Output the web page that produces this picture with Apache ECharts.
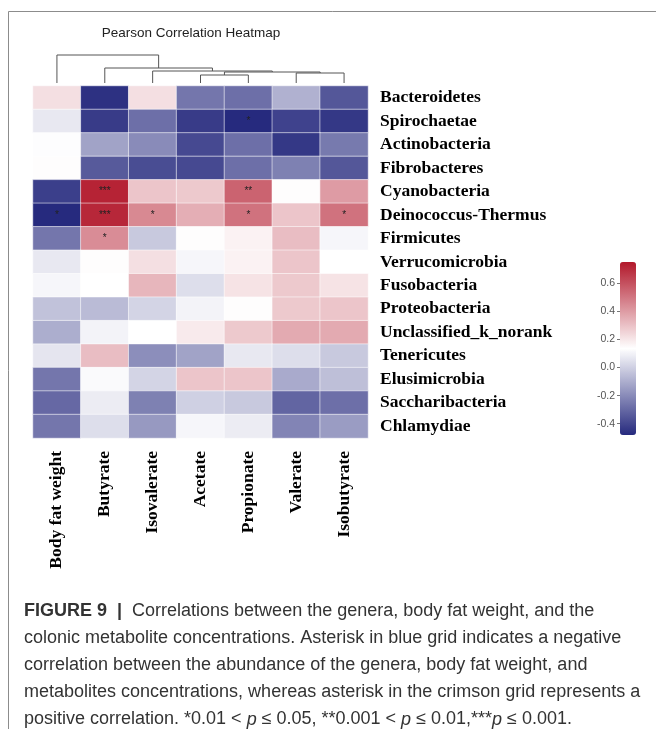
<!DOCTYPE html>
<html>
<head>
<meta charset="utf-8">
<script src="https://cdn.jsdelivr.net/npm/echarts@6/dist/echarts.min.js"></script>
<style>
html,body{margin:0;padding:0;background:#fff;}
#chart{width:656px;height:729px;}
</style>
</head>
<body>
<div id="chart"></div>
<script>
// ---- data ----
const columns = ['Body fat weight', 'Butyrate', 'Isovalerate', 'Acetate', 'Propionate', 'Valerate', 'Isobutyrate'];
const genera = ['Bacteroidetes', 'Spirochaetae', 'Actinobacteria', 'Fibrobacteres', 'Cyanobacteria',
  'Deinococcus-Thermus', 'Firmicutes', 'Verrucomicrobia', 'Fusobacteria', 'Proteobacteria',
  'Unclassified_k_norank', 'Tenericutes', 'Elusimicrobia', 'Saccharibacteria', 'Chlamydiae'];
// rows = genera, columns = columns
const correlations = [
  [0.22, -0.46, 0.22, -0.26, -0.28, -0.09, -0.35],
  [0.07, -0.43, -0.28, -0.43, -0.48, -0.41, -0.44],
  [0.13, -0.13, -0.20, -0.39, -0.28, -0.44, -0.25],
  [0.14, -0.34, -0.38, -0.39, -0.28, -0.23, -0.35],
  [-0.42, 0.72, 0.29, 0.28, 0.55, 0.14, 0.40],
  [-0.48, 0.71, 0.45, 0.35, 0.51, 0.29, 0.51],
  [-0.26, 0.44, -0.02, 0.14, 0.17, 0.31, 0.11],
  [0.07, 0.14, 0.22, 0.11, 0.17, 0.29, 0.135],
  [0.11, 0.135, 0.33, 0.04, 0.21, 0.28, 0.21],
  [-0.04, -0.06, 0.01, 0.10, 0.14, 0.28, 0.29],
  [-0.10, 0.10, 0.135, 0.19, 0.28, 0.36, 0.36],
  [0.06, 0.31, -0.19, -0.13, 0.07, 0.04, -0.02],
  [-0.26, 0.12, 0.01, 0.29, 0.29, -0.11, -0.05],
  [-0.30, 0.08, -0.23, 0.00, -0.02, -0.31, -0.28],
  [-0.26, 0.04, -0.16, 0.11, 0.08, -0.22, -0.15]
];
const significance = [
  ['', '', '', '', '', '', ''],
  ['', '', '', '', '*', '', ''],
  ['', '', '', '', '', '', ''],
  ['', '', '', '', '', '', ''],
  ['', '***', '', '', '**', '', ''],
  ['*', '***', '*', '', '*', '', '*'],
  ['', '*', '', '', '', '', ''],
  ['', '', '', '', '', '', ''],
  ['', '', '', '', '', '', ''],
  ['', '', '', '', '', '', ''],
  ['', '', '', '', '', '', ''],
  ['', '', '', '', '', '', ''],
  ['', '', '', '', '', '', ''],
  ['', '', '', '', '', '', ''],
  ['', '', '', '', '', '', '']
];
// column dendrogram merges: [childA, childB, height]; ids 0..6 are columns, 7+ are merges in order
const dendroMerges = [
  [3, 4, 0.8],
  [5, 6, 1.0],
  [7, 8, 1.1],
  [2, 9, 1.2],
  [1, 10, 1.5],
  [0, 11, 2.8]
];
const colorbarTicks = [-0.4, -0.2, 0.0, 0.2, 0.4, 0.6];
const colorMin = -0.48, colorMax = 0.75;
const titleText = 'Pearson Correlation Heatmap';

// ---- build ----
const heatData = [];
correlations.forEach((row, r) => row.forEach((v, c) => heatData.push([c, r, v])));

const nodeX = columns.map((_, i) => i + 0.5);
const nodeH = columns.map(() => 0);
const dendroData = [];
dendroMerges.forEach(([a, b, h]) => {
  dendroData.push([nodeX[a], nodeH[a], nodeX[b], nodeH[b], h]);
  nodeX.push((nodeX[a] + nodeX[b]) / 2);
  nodeH.push(h);
});

const serifBold = {fontFamily: 'Liberation Serif', fontWeight: 'bold', fontSize: 17.5, color: '#000'};
const cap = {fontFamily: 'Liberation Sans', fontSize: 18, fill: '#333', lineHeight: 27};

const chart = echarts.init(document.getElementById('chart'), null, {renderer: 'canvas'});
chart.setOption({
  animation: false,
  backgroundColor: '#fff',
  graphic: [
    {type: 'rect', shape: {x: 8.5, y: 11.5, width: 700, height: 800},
      style: {fill: 'none', stroke: '#8c8c8c', lineWidth: 1}, silent: true},
    {type: 'text', x: 191, y: 33,
      style: {text: titleText, align: 'center', verticalAlign: 'middle',
        font: '13.5px "Liberation Sans"', fill: '#222'}},
    {type: 'text', x: 24, y: 598,
      style: Object.assign({
        text: '{b|FIGURE 9} {sep| | } Correlations between the genera, body fat weight, and the\n' +
              'colonic metabolite concentrations. Asterisk in blue grid indicates a negative\n' +
              'correlation between the abundance of the genera, body fat weight, and\n' +
              'metabolites concentrations, whereas asterisk in the crimson grid represents a\n' +
              'positive correlation. *0.01 < {i|p} ≤ 0.05, **0.001 < {i|p} ≤ 0.01,***{i|p} ≤ 0.001.',
        rich: {
          b: Object.assign({fontWeight: 'bold'}, cap),
          sep: Object.assign({fontWeight: 'bold'}, cap),
          i: Object.assign({fontStyle: 'italic'}, cap)
        }
      }, cap)}
  ],
  grid: [
    {left: 33, top: 86, width: 335, height: 352},
    {left: 33, top: 53, width: 335, height: 30},
    {left: 620, top: 262, width: 16, height: 173}
  ],
  xAxis: [
    {type: 'category', gridIndex: 0, data: columns, position: 'bottom',
      axisLine: {show: false}, axisTick: {show: false}, splitLine: {show: false},
      axisLabel: Object.assign({rotate: 90, margin: 13, interval: 0}, serifBold)},
    {type: 'value', gridIndex: 1, min: 0, max: columns.length, show: false},
    {type: 'value', gridIndex: 2, min: 0, max: 1, show: false}
  ],
  yAxis: [
    {type: 'category', gridIndex: 0, data: genera, inverse: true, position: 'right',
      axisLine: {show: false}, axisTick: {show: false}, splitLine: {show: false},
      axisLabel: Object.assign({margin: 12, interval: 0, align: 'left'}, serifBold)},
    {type: 'value', gridIndex: 1, min: 0, max: 3, show: false},
    {type: 'value', gridIndex: 2, min: colorMin, max: colorMax, position: 'left',
      axisLine: {show: false}, splitLine: {show: false},
      axisTick: {show: true, length: 3, lineStyle: {color: '#777'}, customValues: colorbarTicks},
      axisLabel: {show: true, margin: 5, fontSize: 10.5, color: '#555', fontFamily: 'Liberation Sans',
        customValues: colorbarTicks, formatter: v => v.toFixed(1)}}
  ],
  visualMap: {
    type: 'continuous', seriesIndex: 0, min: colorMin, max: colorMax,
    left: 620, top: 262, itemWidth: 16, itemHeight: 173, padding: 0,
    calculable: false, hoverLink: false, showLabel: false,
    inRange: {color: ['#262a7e', '#ffffff', '#b2182b']}
  },
  series: [
    {type: 'heatmap', xAxisIndex: 0, yAxisIndex: 0, data: heatData,
      itemStyle: {borderColor: 'rgba(255,255,255,0.55)', borderWidth: 1},
      label: {show: true, fontSize: 10, color: '#222',
        formatter: p => significance[p.data[1]][p.data[0]]},
      emphasis: {disabled: true}},
    {type: 'custom', xAxisIndex: 1, yAxisIndex: 1, data: dendroData, silent: true,
      encode: {x: [0, 2], y: [1, 3, 4]},
      renderItem: (params, api) => {
        const p1 = api.coord([api.value(0), api.value(1)]);
        const p2 = api.coord([api.value(0), api.value(4)]);
        const p3 = api.coord([api.value(2), api.value(4)]);
        const p4 = api.coord([api.value(2), api.value(3)]);
        return {type: 'polyline', shape: {points: [p1, p2, p3, p4]},
          style: {stroke: '#555', fill: null, lineWidth: 1}};
      }}
  ]
});
</script>
</body>
</html>
